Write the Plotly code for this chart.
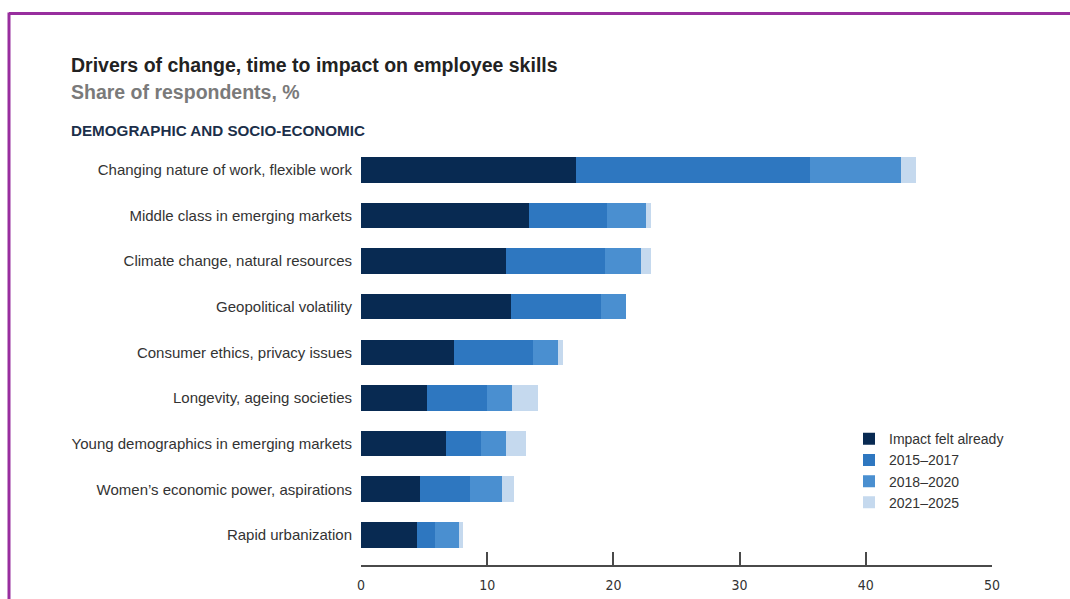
import plotly.graph_objects as go

categories = [
    "Changing nature of work, flexible work",
    "Middle class in emerging markets",
    "Climate change, natural resources",
    "Geopolitical volatility",
    "Consumer ethics, privacy issues",
    "Longevity, ageing societies",
    "Young demographics in emerging markets",
    "Women\u2019s economic power, aspirations",
    "Rapid urbanization",
]
impact_felt_already = [17.0, 13.3, 11.5, 11.9, 7.4, 5.2, 6.7, 4.7, 4.4]
y2015_2017 = [18.6, 6.2, 7.8, 7.1, 6.2, 4.8, 2.8, 3.9, 1.5]
y2018_2020 = [7.2, 3.1, 2.9, 2.0, 2.0, 2.0, 2.0, 2.6, 1.9]
y2021_2025 = [1.2, 0.4, 0.8, 0.0, 0.4, 2.0, 1.6, 0.9, 0.3]
series_names = ["Impact felt already", "2015\u20132017", "2018\u20132020", "2021\u20132025"]
series_values = [impact_felt_already, y2015_2017, y2018_2020, y2021_2025]
colors = ["#082a52", "#2e77c0", "#4a8fd0", "#c5d9ee"]
x_ticks = [0, 10, 20, 30, 40, 50]

W, H = 1070, 599
L, R, T, B = 361, 992, 146.6, 565.0

def px(x):
    return (x - L) / (R - L)

def py(y):
    return (B - y) / (B - T)

fig = go.Figure()
for name, vals, col in zip(series_names, series_values, colors):
    fig.add_trace(go.Bar(
        y=categories, x=vals, name=name, orientation="h",
        marker=dict(color=col, line=dict(width=0)), width=0.56,
    ))

font_main = "Liberation Sans, Arial, sans-serif"
fig.update_layout(
    width=W, height=H,
    margin=dict(l=L, r=W - R, t=T, b=H - B, pad=0, autoexpand=False),
    barmode="stack",
    plot_bgcolor="white", paper_bgcolor="white",
    font=dict(family=font_main, size=14, color="#333333"),
    showlegend=True,
    legend=dict(
        x=px(849), y=py(423), xanchor="left", yanchor="top",
        traceorder="normal", font=dict(size=14, color="#333333"),
        bgcolor="rgba(0,0,0,0)", itemwidth=30, tracegroupgap=0,
    ),
    xaxis=dict(
        range=[0, 50], tickvals=x_ticks, showgrid=False, zeroline=False,
        showline=True, linecolor="#4a4a4a", linewidth=2,
        ticks="inside", ticklen=13, tickwidth=2, tickcolor="#4a4a4a",
        ticklabelstandoff=6, automargin=False,
        tickfont=dict(family="Liberation Sans Narrow, DejaVu Sans Condensed, Arial", size=14, color="#333333"),
        fixedrange=True,
    ),
    yaxis=dict(
        categoryorder="array", categoryarray=categories,
        range=[8.66, -0.5], showgrid=False, zeroline=False, showline=False,
        ticks="", ticklabelstandoff=8, automargin=False,
        tickfont=dict(size=15, color="#333333"),
    ),
    annotations=[
        dict(text="<b>Drivers of change, time to impact on employee skills</b>",
             xref="paper", yref="paper", x=px(69), y=py(65), xanchor="left", yanchor="middle",
             showarrow=False, font=dict(size=19.5, color="#222222")),
        dict(text="<b>Share of respondents, %</b>",
             xref="paper", yref="paper", x=px(69), y=py(92), xanchor="left", yanchor="middle",
             showarrow=False, font=dict(size=19.5, color="#7a7a7a")),
        dict(text="<b>DEMOGRAPHIC AND SOCIO-ECONOMIC</b>",
             xref="paper", yref="paper", x=px(69), y=py(130), xanchor="left", yanchor="middle",
             showarrow=False, font=dict(size=15.2, color="#1c2f4a")),
    ],
    shapes=[
        dict(type="line", xref="paper", yref="paper", x0=px(9), x1=px(1071), y0=py(13), y1=py(13),
             line=dict(color="#982e9e", width=3)),
        dict(type="line", xref="paper", yref="paper", x0=px(9), x1=px(9), y0=py(12), y1=py(600),
             line=dict(color="#982e9e", width=3)),
    ],
)

fig.write_html("out.html")
